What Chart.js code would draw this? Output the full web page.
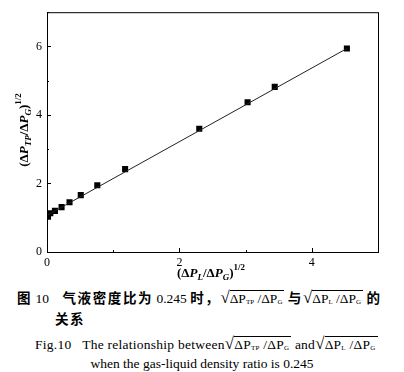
<!DOCTYPE html>
<html>
<head>
<meta charset="utf-8">
<script src="https://cdn.jsdelivr.net/npm/chart.js@4/dist/chart.umd.min.js"></script>
<style>
  body { margin: 0; background: #fff; width: 404px; height: 372px; overflow: hidden; position: relative; color: #000; font-family: "Liberation Serif", serif; }
  #wrap { position: absolute; left: 0; top: 0; width: 404px; height: 285px; }
  .cap { position: absolute; white-space: nowrap; }
  .cn { font-family: "Noto Sans CJK SC", sans-serif; font-weight: bold; letter-spacing: 1.6px; }
  .rt { font-size: 1.25em; line-height: 10px; }
  .rad { display: inline-block; border-top: 1px solid #000; line-height: 13px; padding: 1px 2px 0 0; }
  .rad sub { font-size: 7px; vertical-align: -1px; }
</style>
</head>
<body>
<div id="wrap"><canvas id="chart"></canvas></div>

<div class="cap" style="left:17px;top:287px;font-size:13.5px;line-height:20px;">
  <span class="cn">图</span> 10&nbsp;&nbsp;&nbsp;&nbsp;<span class="cn">气液密度比为</span> 0.245 <span class="cn">时，</span><span class="rt">√</span><span class="rad">ΔP<sub>TP</sub> /ΔP<sub>G</sub></span> <span class="cn">与</span><span class="rt">√</span><span class="rad">ΔP<sub>L</sub> /ΔP<sub>G</sub></span> <span class="cn">的</span>
</div>
<div class="cap cn" style="left:55px;top:308px;font-size:13.5px;line-height:20px;">关系</div>
<div class="cap" style="left:35px;top:336px;font-size:13.5px;line-height:18px;letter-spacing:0.25px;">
  Fig.10&nbsp;&nbsp;&nbsp;The relationship between<span class="rt">√</span><span class="rad">ΔP<sub>TP</sub> /ΔP<sub>G</sub></span> and<span class="rt">√</span><span class="rad">ΔP<sub>L</sub> /ΔP<sub>G</sub></span>
</div>
<div class="cap" style="left:0;width:404px;text-align:center;top:355px;font-size:13.5px;line-height:18px;">
  when the gas-liquid density ratio is 0.245
</div>

<script>
"use strict";

// measured points: sqrt(dPL/dPG) vs sqrt(dPTP/dPG)
const ratioL = [0.015, 0.05, 0.12, 0.22, 0.34, 0.51, 0.76, 1.18, 2.30, 3.03, 3.44, 4.53];
const ratioTP = [1.03, 1.13, 1.20, 1.31, 1.45, 1.66, 1.95, 2.42, 3.60, 4.37, 4.82, 5.94];

// fitted line end points
const fitX = [0, 4.53];
const fitY = [1.07, 5.94];

const xLabeled = [0, 2, 4];
const yLabeled = [0, 2, 4, 6];

const points = ratioL.map((x, i) => ({ x, y: ratioTP[i] }));
const fitLine = fitX.map((x, i) => ({ x, y: fitY[i] }));

const serif = '"Liberation Serif", "Times New Roman", serif';

// draws text with sub/superscript pieces, centred on (cx, cy)
function drawRich(ctx, parts, cx, cy) {
  let total = 0;
  for (const p of parts) {
    p.size = p.sub || p.sup ? 9 : 13;
    ctx.font = `${p.italic ? "italic " : ""}bold ${p.size}px ${serif}`;
    p.w = ctx.measureText(p.t).width;
    total += p.w;
  }
  let x = cx - total / 2;
  ctx.textAlign = "left";
  ctx.textBaseline = "middle";
  for (const p of parts) {
    ctx.font = `${p.italic ? "italic " : ""}bold ${p.size}px ${serif}`;
    let dy = 0;
    if (p.sub) dy = 4;
    if (p.sup) dy = -6;
    ctx.fillText(p.t, x, cy + dy);
    x += p.w;
  }
}

function titleParts(sub1) {
  return [
    { t: "(Δ" }, { t: "P", italic: true }, { t: sub1, sub: true, italic: true },
    { t: "/Δ" }, { t: "P", italic: true }, { t: "G", sub: true, italic: true },
    { t: ")" }, { t: "1/2", sup: true }
  ];
}

const framePlugin = {
  id: "frame",
  afterDraw(chart) {
    const { ctx, chartArea: a, scales } = chart;
    ctx.save();
    ctx.strokeStyle = "#000";
    ctx.lineWidth = 1;
    ctx.strokeRect(a.left + 0.5, a.top + 0.5, a.right - a.left, a.bottom - a.top);

    // inward ticks, long on labelled values
    for (let v = 0; v <= 5; v++) {
      const px = Math.round(scales.x.getPixelForValue(v)) + 0.5;
      const len = xLabeled.includes(v) ? 4 : 2;
      ctx.beginPath();
      ctx.moveTo(px, a.bottom);
      ctx.lineTo(px, a.bottom - len);
      ctx.stroke();
    }
    for (let v = 0; v <= 7; v++) {
      const py = Math.round(scales.y.getPixelForValue(v)) + 0.5;
      const len = yLabeled.includes(v) ? 4 : 2;
      ctx.beginPath();
      ctx.moveTo(a.left, py);
      ctx.lineTo(a.left + len, py);
      ctx.stroke();
    }

    ctx.fillStyle = "#000";
    drawRich(ctx, titleParts("L"), 211, 274);

    ctx.translate(25, 130);
    ctx.rotate(-Math.PI / 2);
    drawRich(ctx, titleParts("TP"), 0, 0);
    ctx.restore();
  }
};

function buildChart() {
  new Chart(document.getElementById("chart"), {
    type: "scatter",
    data: {
      datasets: [
        {
          data: fitLine,
          showLine: true,
          borderColor: "#222",
          borderWidth: 1,
          pointRadius: 0
        },
        {
          data: points,
          pointStyle: "rect",
          pointRadius: 4.3,
          backgroundColor: "#000",
          borderColor: "#000",
          borderWidth: 0
        }
      ]
    },
    options: {
      responsive: true,
      maintainAspectRatio: false,
      animation: false,
      layout: { padding: { top: 4, right: 26, left: 0, bottom: 0 } },
      plugins: { legend: { display: false }, tooltip: { enabled: false } },
      scales: {
        x: {
          type: "linear",
          min: 0,
          max: 5,
          grid: { display: false, drawTicks: false },
          border: { display: false },
          ticks: {
            stepSize: 1,
            padding: 4,
            color: "#000",
            font: { family: serif, size: 12 },
            callback: (v) => (xLabeled.includes(v) ? v : "")
          },
          afterFit: (s) => { s.height = 33; }
        },
        y: {
          type: "linear",
          min: 0,
          max: 7,
          grid: { display: false, drawTicks: false },
          border: { display: false },
          ticks: {
            stepSize: 1,
            padding: 5,
            color: "#000",
            font: { family: serif, size: 12 },
            callback: (v) => (yLabeled.includes(v) ? v : "")
          },
          afterFit: (s) => { s.width = 47; }
        }
      }
    },
    plugins: [framePlugin]
  });
}

window.addEventListener("load", buildChart);
</script>
</body>
</html>
